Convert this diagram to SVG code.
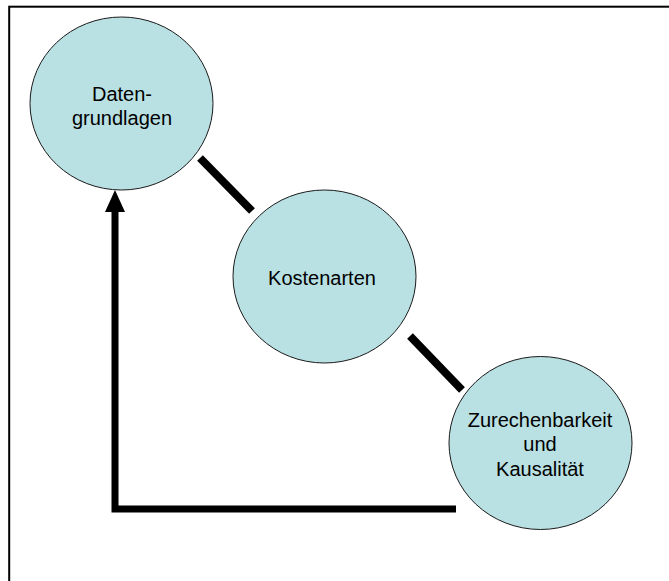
<svg xmlns="http://www.w3.org/2000/svg" width="669" height="581" viewBox="0 0 669 581">
  <defs>
    <style>
      .node ellipse { fill: #b9e0e3; stroke: #1a1a1a; stroke-width: 1; }
      .node text { font-family: "Liberation Sans", Arial, sans-serif; font-size: 20px; fill: #000; text-anchor: middle; }
      .link { stroke: #000; stroke-width: 8; fill: none; stroke-linecap: butt; }
      .flow { stroke: #000; stroke-width: 7; fill: none; stroke-linejoin: miter; }
    </style>
    <marker id="arrowhead" markerUnits="userSpaceOnUse" markerWidth="20" markerHeight="24" refX="10" refY="22" orient="auto-start-reverse" viewBox="0 0 20 24">
      <path d="M0,22 L10,0 L20,22 Z" fill="#000"/>
    </marker>
  </defs>

  <rect width="669" height="581" fill="#ffffff"/>
  <!-- outer frame -->
  <rect x="9.2" y="6.7" width="700" height="620" fill="none" stroke="#000" stroke-width="2"/>

  <g id="connectors">
    <line class="link" x1="200" y1="158" x2="252" y2="211"/>
    <line class="link" x1="410" y1="336" x2="462" y2="390"/>
    <polyline class="flow" points="456,509 115,509 115,212"/>
    <path d="M115,190 L105,212 L125,212 Z" fill="#000"/>
  </g>

  <g id="datengrundlagen" class="node">
    <ellipse cx="121.5" cy="103.5" rx="91.5" ry="86.5"/>
    <text x="122" y="101">Daten-</text>
    <text x="122" y="125">grundlagen</text>
  </g>

  <g id="kostenarten" class="node">
    <ellipse cx="324.5" cy="276.5" rx="91.5" ry="86.5"/>
    <text x="322" y="285">Kostenarten</text>
  </g>

  <g id="zurechenbarkeit" class="node">
    <ellipse cx="540.5" cy="443" rx="91.5" ry="86.5"/>
    <text x="540" y="427">Zurechenbarkeit</text>
    <text x="540" y="451">und</text>
    <text x="540" y="476">Kausalität</text>
  </g>
</svg>
